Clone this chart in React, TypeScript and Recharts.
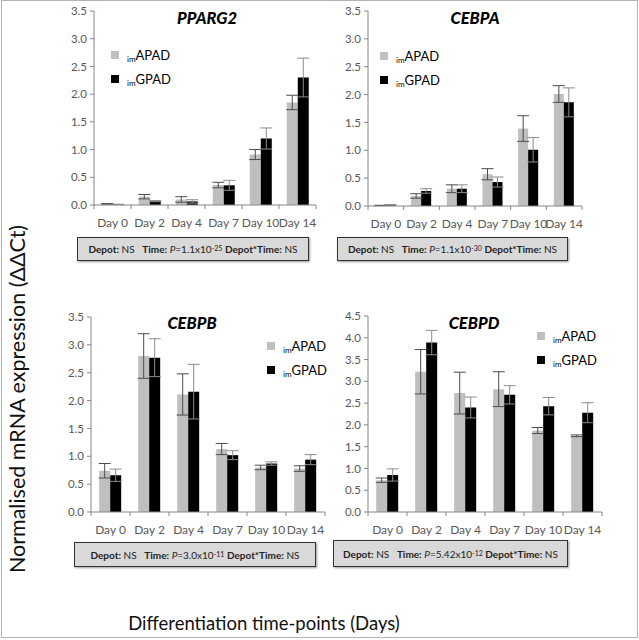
import React from "react";
import { BarChart, Bar, XAxis, YAxis, ErrorBar } from "recharts";

const DAYS = ["Day 0", "Day 2", "Day 4", "Day 7", "Day 10", "Day 14"];

const PPARG2_APAD = [0.02, 0.15, 0.1, 0.36, 0.91, 1.85];
const PPARG2_APAD_ERR = [0.005, 0.04, 0.05, 0.05, 0.09, 0.13];
const PPARG2_GPAD = [0.01, 0.07, 0.065, 0.355, 1.2, 2.3];
const PPARG2_GPAD_ERR = [0.003, 0.01, 0.03, 0.09, 0.19, 0.35];

const CEBPA_APAD = [0.01, 0.18, 0.31, 0.57, 1.39, 2.01];
const CEBPA_APAD_ERR = [0.003, 0.04, 0.07, 0.1, 0.23, 0.15];
const CEBPA_GPAD = [0.02, 0.27, 0.31, 0.43, 1.01, 1.86];
const CEBPA_GPAD_ERR = [0.005, 0.04, 0.07, 0.09, 0.22, 0.26];

const CEBPB_APAD = [0.74, 2.8, 2.11, 1.13, 0.8, 0.78];
const CEBPB_APAD_ERR = [0.13, 0.4, 0.37, 0.1, 0.04, 0.05];
const CEBPB_GPAD = [0.66, 2.77, 2.16, 1.02, 0.87, 0.94];
const CEBPB_GPAD_ERR = [0.11, 0.34, 0.49, 0.08, 0.03, 0.09];

const CEBPD_APAD = [0.73, 3.22, 2.73, 2.82, 1.87, 1.75];
const CEBPD_APAD_ERR = [0.05, 0.51, 0.48, 0.4, 0.07, 0.02];
const CEBPD_GPAD = [0.85, 3.89, 2.4, 2.69, 2.43, 2.28];
const CEBPD_GPAD_ERR = [0.14, 0.28, 0.24, 0.21, 0.2, 0.23];

const TICKS_35 = [0, 0.5, 1, 1.5, 2, 2.5, 3, 3.5];
const TICKS_45 = [0, 0.5, 1, 1.5, 2, 2.5, 3, 3.5, 4, 4.5];

const P_VALUES = ["1.1x10", "1.1x10", "3.0x10", "5.42x10"];
const P_EXPONENTS = ["-25", "-30", "-11", "-12"];

const FONT = "Lato, 'Open Sans', sans-serif";
const AXIS = "#868686";
const TEXT = "#595959";
const GREY = "#bfbfbf";

type Rect = { left: number; top: number; width: number; height: number };

function buildRows(apad: number[], apadErr: number[], gpad: number[], gpadErr: number[]) {
  return DAYS.map((day, i) => ({
    day,
    apad: apad[i],
    apadErr: apadErr[i],
    gpad: gpad[i],
    gpadErr: gpadErr[i],
  }));
}

function Panel(props: {
  title: string;
  rows: any[];
  yMax: number;
  yTicks: number[];
  box: Rect;
  plot: { x0: number; x1: number; y0: number; y1: number };
  titleAt: [number, number];
  legendAt: [number, number];
  stat: Rect;
  p: string;
  exp: string;
}) {
  const { box, plot } = props;
  const bw = (plot.x1 - plot.x0) / DAYS.length;

  const dayTick = (t: any) => {
    const axisY = t.y - 6;
    return (
      <g>
        <line x1={t.x - bw / 2} x2={t.x - bw / 2} y1={axisY} y2={axisY + 4} stroke={AXIS} />
        {t.index === DAYS.length - 1 && (
          <line x1={t.x + bw / 2} x2={t.x + bw / 2} y1={axisY} y2={axisY + 4} stroke={AXIS} />
        )}
        <text
          x={t.x}
          y={axisY + 17}
          textAnchor="middle"
          dominantBaseline="central"
          fontSize={12}
          fill={TEXT}
          fontFamily={FONT}
        >
          {t.payload.value}
        </text>
      </g>
    );
  };

  return (
    <>
      <div style={{ position: "absolute", left: box.left, top: box.top }}>
        <BarChart
          width={box.width}
          height={box.height}
          data={props.rows}
          margin={{
            top: plot.y0 - box.top,
            right: box.left + box.width - plot.x1,
            left: 0,
            bottom: 0,
          }}
          barGap={0}
          barCategoryGap="21%"
        >
          <XAxis
            dataKey="day"
            height={box.top + box.height - plot.y1}
            interval={0}
            tickLine={false}
            tickSize={4}
            tickMargin={2}
            axisLine={{ stroke: AXIS }}
            tick={dayTick}
          />
          <YAxis
            width={plot.x0 - box.left}
            domain={[0, props.yMax]}
            ticks={props.yTicks}
            interval={0}
            tickFormatter={(v: number) => v.toFixed(1)}
            tick={{ fontSize: 11.5, fill: TEXT, fontFamily: FONT }}
            axisLine={{ stroke: AXIS }}
            tickLine={{ stroke: AXIS }}
            tickSize={4}
            tickMargin={3}
          />
          <Bar dataKey="apad" fill={GREY} isAnimationActive={false}>
            <ErrorBar dataKey="apadErr" width={6} stroke="#4d4d4d" strokeWidth={1} />
          </Bar>
          <Bar dataKey="gpad" fill="#000" isAnimationActive={false}>
            <ErrorBar dataKey="gpadErr" width={6} stroke="#8c8c8c" strokeWidth={1} />
          </Bar>
        </BarChart>
      </div>

      <div
        style={{
          position: "absolute",
          left: props.titleAt[0] - 60,
          top: props.titleAt[1] - 10,
          width: 120,
          textAlign: "center",
          fontSize: 16.5,
          lineHeight: "20px",
          fontWeight: 900,
          fontStyle: "italic",
          color: "#000",
        }}
      >
        {props.title}
      </div>

      {["APAD", "GPAD"].map((name, i) => (
        <div
          key={name}
          style={{
            position: "absolute",
            left: props.legendAt[0],
            top: props.legendAt[1] + i * 24,
            height: 12,
            display: "flex",
            alignItems: "center",
            fontSize: 13,
            color: "#000",
            whiteSpace: "nowrap",
          }}
        >
          <span
            style={{
              display: "inline-block",
              width: 8,
              height: 8,
              background: i === 0 ? GREY : "#000",
              marginRight: 8,
            }}
          />
          <span style={{ fontSize: 8, position: "relative", top: 4 }}>im</span>
          <span>{name}</span>
        </div>
      ))}

      <div
        style={{
          position: "absolute",
          left: props.stat.left,
          top: props.stat.top,
          width: props.stat.width,
          height: props.stat.height,
          boxSizing: "border-box",
          border: "1px solid #333",
          background: "#d9d9d9",
          boxShadow: "1px 1px 2px #999",
          display: "flex",
          alignItems: "center",
          justifyContent: "center",
          fontSize: 10,
          color: "#222",
          whiteSpace: "nowrap",
        }}
      >
        <b>Depot:</b>&nbsp;NS&nbsp;&nbsp;&nbsp;<b>Time:</b>&nbsp;<i>P</i>={props.p}
        <sup style={{ fontSize: 7, position: "relative", top: -1 }}>{props.exp}</sup>
        &nbsp;<b>Depot*Time:</b>&nbsp;NS
      </div>
    </>
  );
}

export default function App() {
  return (
    <div
      style={{
        position: "absolute",
        left: 0,
        top: 0,
        width: 639,
        height: 640,
        background: "#fff",
        fontFamily: FONT,
        overflow: "hidden",
      }}
    >
      <div
        style={{
          position: "absolute",
          left: 1,
          top: 0,
          width: 637,
          height: 638,
          boxSizing: "border-box",
          border: "1px solid #b3b3b3",
        }}
      />

      <Panel
        title="PPARG2"
        rows={buildRows(PPARG2_APAD, PPARG2_APAD_ERR, PPARG2_GPAD, PPARG2_GPAD_ERR)}
        yMax={3.5}
        yTicks={TICKS_35}
        box={{ left: 0, top: 0, width: 330, height: 232 }}
        plot={{ x0: 94, x1: 316, y0: 11, y1: 205 }}
        titleAt={[207, 18]}
        legendAt={[111, 49]}
        stat={{ left: 77, top: 237, width: 232, height: 24 }}
        p={P_VALUES[0]}
        exp={P_EXPONENTS[0]}
      />
      <Panel
        title="CEBPA"
        rows={buildRows(CEBPA_APAD, CEBPA_APAD_ERR, CEBPA_GPAD, CEBPA_GPAD_ERR)}
        yMax={3.5}
        yTicks={TICKS_35}
        box={{ left: 320, top: 0, width: 300, height: 232 }}
        plot={{ x0: 368, x1: 582, y0: 11, y1: 206 }}
        titleAt={[475, 18]}
        legendAt={[380, 50]}
        stat={{ left: 337, top: 237, width: 231, height: 24 }}
        p={P_VALUES[1]}
        exp={P_EXPONENTS[1]}
      />
      <Panel
        title="CEBPB"
        rows={buildRows(CEBPB_APAD, CEBPB_APAD_ERR, CEBPB_GPAD, CEBPB_GPAD_ERR)}
        yMax={3.5}
        yTicks={TICKS_35}
        box={{ left: 0, top: 300, width: 330, height: 240 }}
        plot={{ x0: 91, x1: 325, y0: 317, y1: 512 }}
        titleAt={[192, 323]}
        legendAt={[267, 340]}
        stat={{ left: 74, top: 542, width: 242, height: 25 }}
        p={P_VALUES[2]}
        exp={P_EXPONENTS[2]}
      />
      <Panel
        title="CEBPD"
        rows={buildRows(CEBPD_APAD, CEBPD_APAD_ERR, CEBPD_GPAD, CEBPD_GPAD_ERR)}
        yMax={4.5}
        yTicks={TICKS_45}
        box={{ left: 320, top: 300, width: 300, height: 240 }}
        plot={{ x0: 368, x1: 602, y0: 316, y1: 512 }}
        titleAt={[474, 323]}
        legendAt={[537, 330]}
        stat={{ left: 333, top: 540, width: 235, height: 27 }}
        p={P_VALUES[3]}
        exp={P_EXPONENTS[3]}
      />

      <div
        style={{
          position: "absolute",
          left: 17 - 200,
          top: 399 - 13,
          width: 400,
          height: 26,
          lineHeight: "26px",
          textAlign: "center",
          fontSize: 21.5,
          color: "#111",
          transform: "rotate(-90deg)",
          whiteSpace: "nowrap",
        }}
      >
        Normalised mRNA expression (ΔΔCt)
      </div>

      <div
        style={{
          position: "absolute",
          left: 264 - 200,
          top: 623 - 13,
          width: 400,
          height: 26,
          lineHeight: "26px",
          textAlign: "center",
          fontSize: 18.5,
          color: "#111",
          whiteSpace: "nowrap",
        }}
      >
        Differentiation time-points (Days)
      </div>
    </div>
  );
}
